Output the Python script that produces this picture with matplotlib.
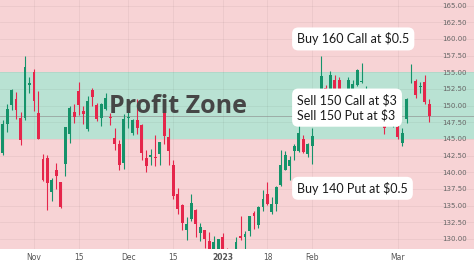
import numpy as np
import matplotlib.pyplot as plt

# daily candles, 21 Oct 2022 .. 10 Mar 2023
dates = ['2022-10-21', '2022-10-24', '2022-10-25', '2022-10-26', '2022-10-27', '2022-10-28', '2022-10-31',
         '2022-11-01', '2022-11-02', '2022-11-03', '2022-11-04', '2022-11-07', '2022-11-08', '2022-11-09',
         '2022-11-10', '2022-11-11', '2022-11-14', '2022-11-15', '2022-11-16', '2022-11-17', '2022-11-18',
         '2022-11-21', '2022-11-22', '2022-11-23', '2022-11-25', '2022-11-28', '2022-11-29', '2022-11-30',
         '2022-12-01', '2022-12-02', '2022-12-05', '2022-12-06', '2022-12-07', '2022-12-08', '2022-12-09',
         '2022-12-12', '2022-12-13', '2022-12-14', '2022-12-15', '2022-12-16', '2022-12-19', '2022-12-20',
         '2022-12-21', '2022-12-22', '2022-12-23', '2022-12-27', '2022-12-28', '2022-12-29', '2022-12-30',
         '2023-01-03', '2023-01-04', '2023-01-05', '2023-01-06', '2023-01-09', '2023-01-10', '2023-01-11',
         '2023-01-12', '2023-01-13', '2023-01-17', '2023-01-18', '2023-01-19', '2023-01-20', '2023-01-23',
         '2023-01-24', '2023-01-25', '2023-01-26', '2023-01-27', '2023-01-30', '2023-01-31', '2023-02-01',
         '2023-02-02', '2023-02-03', '2023-02-06', '2023-02-07', '2023-02-08', '2023-02-09', '2023-02-10',
         '2023-02-13', '2023-02-14', '2023-02-15', '2023-02-16', '2023-02-17', '2023-02-21', '2023-02-22',
         '2023-02-23', '2023-02-24', '2023-02-27', '2023-02-28', '2023-03-01', '2023-03-02', '2023-03-03',
         '2023-03-06', '2023-03-07', '2023-03-08', '2023-03-09', '2023-03-10']

opens = [142.87, 147.19, 150.09, 150.96, 148.07, 148.20, 153.16,
         155.08, 148.95, 142.06, 142.09, 137.11, 140.41, 138.50,
         141.24, 145.82, 148.97, 152.22, 149.13, 146.43, 152.31,
         150.16, 148.13, 149.45, 148.31, 145.14, 144.29, 141.40,
         148.21, 145.96, 147.77, 147.07, 142.19, 142.36, 142.34,
         142.70, 149.50, 145.35, 141.11, 136.69, 135.11, 131.39,
         132.98, 134.35, 130.92, 131.38, 129.67, 127.99, 128.41,
         130.28, 126.89, 127.13, 126.01, 130.47, 130.26, 131.25,
         133.88, 132.03, 134.83, 136.82, 134.08, 135.28, 138.12,
         140.31, 140.89, 143.17, 143.16, 144.96, 142.70, 143.97,
         148.90, 148.03, 152.57, 150.64, 153.88, 153.78, 149.46,
         150.95, 152.12, 153.11, 153.51, 152.35, 150.20, 148.87,
         150.09, 147.11, 147.71, 147.05, 146.83, 144.38, 148.04,
         153.79, 153.70, 152.81, 153.56, 150.21]
highs = [147.85, 150.23, 152.49, 151.99, 149.05, 157.50, 154.24,
         155.45, 152.17, 142.80, 142.67, 139.15, 141.43, 138.55,
         146.87, 150.01, 150.28, 153.59, 149.87, 151.48, 152.70,
         150.37, 150.42, 151.83, 148.88, 146.64, 144.81, 148.72,
         149.13, 148.00, 150.92, 147.30, 143.37, 143.52, 145.57,
         144.50, 149.97, 146.66, 141.80, 137.65, 135.20, 133.25,
         136.81, 134.56, 132.42, 131.41, 131.03, 130.48, 129.95,
         130.90, 128.66, 127.77, 130.29, 133.41, 131.26, 133.51,
         134.26, 134.92, 137.29, 138.61, 136.25, 138.02, 143.32,
         143.16, 142.43, 144.25, 147.23, 145.55, 144.34, 146.61,
         151.18, 157.38, 153.10, 155.23, 154.58, 154.33, 151.34,
         154.26, 153.77, 155.50, 156.33, 153.00, 151.30, 149.95,
         150.34, 147.19, 149.17, 149.08, 147.23, 146.71, 151.11,
         156.30, 154.03, 153.47, 154.54, 150.94]
lows = [142.65, 146.00, 149.36, 148.04, 144.13, 147.82, 151.92,
        149.13, 145.00, 138.75, 134.38, 135.67, 137.49, 134.59,
        139.50, 144.37, 147.43, 148.56, 147.29, 146.15, 149.97,
        147.72, 146.93, 149.34, 147.12, 143.38, 140.35, 140.55,
        146.61, 145.65, 145.77, 141.92, 140.00, 141.10, 140.90,
        141.06, 144.24, 141.16, 136.03, 133.73, 131.32, 129.89,
        132.75, 130.30, 129.64, 128.72, 125.87, 127.73, 127.43,
        124.17, 125.08, 124.76, 124.89, 129.89, 128.12, 130.46,
        131.44, 131.66, 134.13, 135.03, 133.77, 134.22, 137.90,
        140.30, 138.81, 141.90, 143.08, 142.85, 142.28, 141.32,
        148.17, 147.83, 150.78, 150.64, 151.17, 150.42, 149.22,
        150.92, 150.86, 152.88, 153.35, 150.85, 148.41, 147.16,
        147.24, 145.72, 147.45, 146.83, 145.01, 143.90, 147.33,
        153.46, 151.13, 151.83, 150.23, 147.61]
closes = [147.27, 149.45, 152.34, 149.35, 144.80, 155.74, 153.34,
          150.65, 145.03, 138.88, 138.38, 138.92, 139.50, 134.87,
          146.87, 149.70, 148.28, 150.04, 148.79, 150.72, 151.29,
          148.01, 150.18, 151.07, 148.11, 144.22, 141.17, 148.03,
          148.31, 147.81, 146.63, 142.91, 140.94, 142.65, 142.16,
          144.49, 145.47, 143.21, 136.50, 134.51, 132.37, 132.30,
          135.45, 132.23, 131.86, 130.03, 126.04, 129.61, 129.93,
          125.07, 126.36, 125.02, 129.62, 130.15, 130.73, 133.49,
          133.41, 134.76, 135.94, 135.21, 135.27, 137.87, 141.11,
          142.53, 141.86, 143.96, 145.93, 143.00, 144.29, 145.43,
          150.82, 154.50, 151.73, 154.65, 151.92, 150.87, 151.01,
          153.85, 153.20, 155.33, 153.71, 152.55, 148.48, 148.91,
          149.40, 146.71, 147.92, 147.41, 145.31, 145.91, 151.03,
          153.83, 151.60, 152.87, 150.59, 148.50]

tick_dates = ['2022-11-01', '2022-11-15', '2022-12-01', '2022-12-15', '2023-01-03',
              '2023-01-18', '2023-02-01', '2023-03-01']
tick_labels = ['Nov', '15', 'Dec', '15', '2023', '18', 'Feb', 'Mar']
price_ticks = np.arange(130, 165.01, 2.5)

zone_low, zone_high = 145, 155
notes = [(160, 'Buy 160 Call at $0.5'),
         (149.7, 'Sell 150 Call at $3\nSell 150 Put at $3'),
         (137.6, 'Buy 140 Put at $0.5')]

o = np.array(opens); h = np.array(highs); l = np.array(lows); c = np.array(closes)
x = np.arange(len(dates))
up_col, down_col = '#15936a', '#e5264b'
cols = [up_col if cc >= oo else down_col for oo, cc in zip(o, c)]

fig = plt.figure(figsize=(4.74, 2.66), dpi=100)
fig.patch.set_facecolor('white')
ax = fig.add_axes([0, 17/266, 1, 249/266])
ax.set_facecolor('#f7d3d5')
ax.axhspan(zone_low, zone_high, color='#b9e2d3', zorder=0, lw=0)

ax.grid(True, color='black', alpha=0.05, lw=0.6, zorder=1)
ax.axhline(closes[-1], color='#8a8a8a', lw=0.6, alpha=0.7, zorder=2)

body = np.maximum(np.abs(c - o), 0.12)
ax.vlines(x, l, h, color=cols, lw=0.8, zorder=3)
ax.bar(x, body, bottom=np.minimum(o, c), width=0.65, color=cols, zorder=3)

ax.text(23.7, 149.8, 'Profit Zone', fontsize=18, fontweight='bold', color='#464646',
        family='Open Sans', va='center', ha='left', zorder=4)
for yv, s in notes:
    ax.text(65.6, yv, s, fontsize=9, family='Lato', color='#1a1a1a', va='center', ha='left',
            linespacing=1.3, zorder=5,
            bbox=dict(boxstyle='round,pad=0.4,rounding_size=0.5', fc='white', ec='none'))

ax.set_xlim(-0.57, 105)
ax.set_ylim(128.5, 165.84)
ax.set_xticks([dates.index(d) for d in tick_dates])
ax.set_xticklabels(tick_labels)
ax.get_xticklabels()[4].set_fontweight('bold')
ax.yaxis.tick_right()
ax.set_yticks(price_ticks)
ax.set_yticklabels([f'{v:.2f}' for v in price_ticks])
ax.tick_params(axis='x', length=0, pad=3, labelsize=5.5, labelcolor='#555555')
ax.tick_params(axis='y', length=0, pad=-23, labelsize=5, labelcolor='#666666')
for s in ax.spines.values():
    s.set_visible(False)

fig.savefig('out.png', dpi=100)
